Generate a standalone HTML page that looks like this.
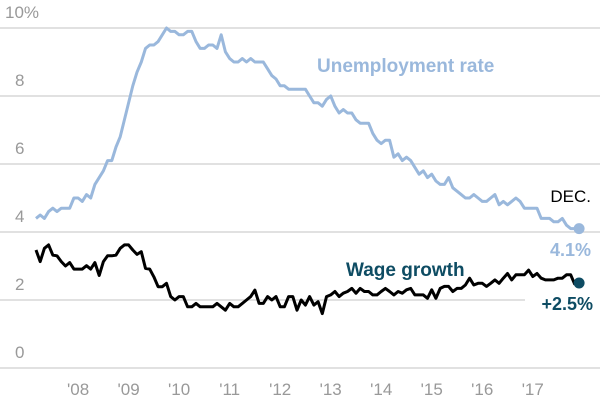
<!DOCTYPE html>
<html><head><meta charset="utf-8"><style>
html,body{margin:0;padding:0;background:#fff;}
svg{display:block;font-family:"Liberation Sans",sans-serif;}
</style></head><body>
<svg id="chart" width="600" height="400" viewBox="0 0 600 400">
<g id="grid"></g>
<g id="yaxis"></g>
<g id="xaxis"></g>
<g id="series"></g>
<text x="317" y="72" font-size="19" font-weight="bold" fill="#9ab8dc">Unemployment rate</text>
<text x="346" y="276" font-size="19" font-weight="bold" fill="#0e4c63">Wage growth</text>
<text x="591" y="202" font-size="17" fill="#000" text-anchor="end">DEC.</text>
<text x="591" y="256" font-size="18" font-weight="bold" fill="#9ab8dc" text-anchor="end">4.1%</text>
<text x="593" y="310" font-size="18" font-weight="bold" fill="#0e4c63" text-anchor="end">+2.5%</text>
</svg>
<script>
const yTicks = [0, 2, 4, 6, 8, 10];
const yTickLabels = ["0", "2", "4", "6", "8", "10%"];
const xTickYears = ["'08", "'09", "'10", "'11", "'12", "'13", "'14", "'15", "'16", "'17"];
// monthly, March 2007 – December 2017
const unemployment = [
4.4,4.5,4.4,4.6,4.7,4.6,4.7,4.7,4.7,5.0,
5.0,4.9,5.1,5.0,5.4,5.6,5.8,6.1,6.1,6.5,6.8,7.3,
7.8,8.3,8.7,9.0,9.4,9.5,9.5,9.6,9.8,10.0,9.9,9.9,
9.8,9.8,9.9,9.9,9.6,9.4,9.4,9.5,9.5,9.4,9.8,9.3,
9.1,9.0,9.0,9.1,9.0,9.1,9.0,9.0,9.0,8.8,8.6,8.5,
8.3,8.3,8.2,8.2,8.2,8.2,8.2,8.0,7.8,7.8,7.7,7.9,
8.0,7.7,7.5,7.6,7.5,7.5,7.3,7.2,7.2,7.2,6.9,6.7,
6.6,6.7,6.7,6.2,6.3,6.1,6.2,6.1,5.9,5.7,5.8,5.6,
5.7,5.5,5.4,5.4,5.6,5.3,5.2,5.1,5.0,5.0,5.1,5.0,
4.9,4.9,5.0,5.1,4.8,4.9,4.8,4.9,5.0,4.9,4.7,4.7,
4.7,4.7,4.4,4.4,4.4,4.3,4.3,4.4,4.2,4.1,4.1,4.1];
const wageGrowth = [
3.47,3.13,3.52,3.62,3.32,3.30,3.13,3.0,3.1,2.91,
2.91,2.91,3.01,2.91,3.1,2.72,3.13,3.30,3.30,3.32,3.52,3.62,
3.62,3.47,3.34,3.42,2.93,2.91,2.68,2.39,2.39,2.49,2.1,2.0,
2.1,2.1,1.8,1.8,1.9,1.8,1.8,1.8,1.8,1.9,1.8,1.7,
1.9,1.8,1.8,1.9,2.0,2.1,2.29,1.9,1.9,2.1,2.0,2.1,
1.8,1.8,2.1,2.1,1.7,2.0,1.85,2.1,1.85,1.95,1.6,2.1,
2.15,2.25,2.1,2.2,2.25,2.34,2.2,2.34,2.25,2.25,2.15,2.15,
2.25,2.34,2.25,2.15,2.25,2.2,2.3,2.34,2.15,2.15,2.15,2.05,
2.3,2.05,2.34,2.4,2.4,2.25,2.34,2.34,2.44,2.64,2.44,2.49,
2.49,2.4,2.49,2.59,2.49,2.64,2.78,2.59,2.74,2.74,2.74,2.88,
2.69,2.78,2.64,2.59,2.59,2.59,2.64,2.64,2.74,2.74,2.45,2.5];

const NS = "http://www.w3.org/2000/svg";
const x = i => 36 + i * 4.21;          // month index from Mar 2007
const y = v => 368 - v * 34;
function mk(tag, attrs, parent) {
  const e = document.createElementNS(NS, tag);
  for (const k in attrs) e.setAttribute(k, attrs[k]);
  parent.appendChild(e);
  return e;
}
const grid = document.getElementById('grid');
const yaxis = document.getElementById('yaxis');
const xaxis = document.getElementById('xaxis');
const series = document.getElementById('series');

yTicks.forEach((t, k) => {
  const ln = mk('line', {x1: 0, x2: t === 2 ? 525 : 600, y1: y(t), y2: y(t), stroke: '#cfcfcf', 'stroke-width': 1.3}, grid);
  
  
  const tx = mk('text', {x: t === 10 ? 5 : 15, y: y(t) - 10, 'font-size': 17, fill: '#999'}, yaxis);
  tx.textContent = yTickLabels[k];
  
  
});
xTickYears.forEach((lab, k) => {
  const tx = mk('text', {x: x(10 + 12 * k), y: 395, 'font-size': 17, fill: '#999', 'text-anchor': 'middle'}, xaxis);
  tx.textContent = lab;
  
  
});
function line(data, color, name) {
  const pts = data.slice(0, data.length - 1).map((v, i) => x(i).toFixed(1) + ',' + y(v).toFixed(1)).join(' ');
  const p = mk('polyline', {points: pts, fill: 'none', stroke: color, 'stroke-width': 3, 'stroke-linejoin': 'round'}, series);
  
  
}
line(unemployment, '#9ab8dc', 'unemployment-line');
line(wageGrowth, '#000', 'wage-growth-line');
const d1 = mk('circle', {cx: x(unemployment.length - 1), cy: y(unemployment[unemployment.length - 1]), r: 5.5, fill: '#9ab8dc'}, series);


const d2 = mk('circle', {cx: x(wageGrowth.length - 1), cy: y(wageGrowth[wageGrowth.length - 1]), r: 5.5, fill: '#0e4c63'}, series);


</script>
</body></html>
